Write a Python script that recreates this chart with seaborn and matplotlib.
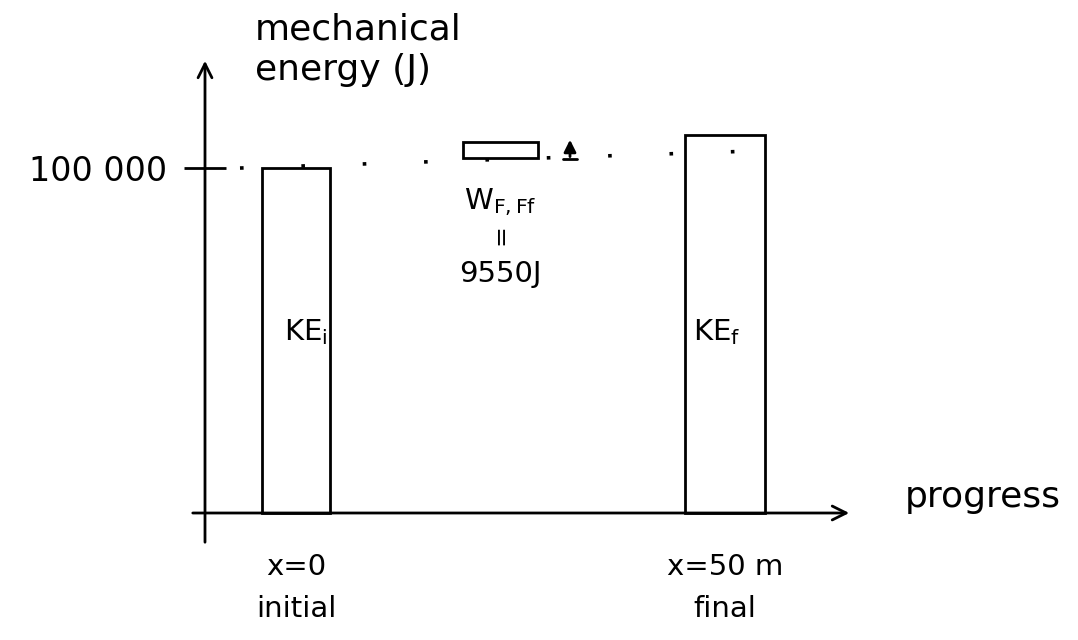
import matplotlib
matplotlib.use("Agg")
import matplotlib.pyplot as plt
import seaborn as sns
import pandas as pd

# ---- data ----
stages = ["x=0\ninitial", "x=50 m\nfinal"]
stage_pos = [91, 520]             # progress positions of the two states
bar_labels = [r"KE$_\mathrm{i}$", r"KE$_\mathrm{f}$"]
energies = [100000, 109550]       # kinetic energy (J)
work_label = r"W$_\mathrm{F,Ff}$"
work_value_text = "9550J"
work_box = [102900, 107500]       # bottom/top of the small work box (J)
work_box_pos = 295
ref_level = 100000
ytick_labels = ["100 000"]

sns.set_theme(style="white")
plt.rcParams["font.family"] = ["DejaVu Sans"]
plt.rcParams["text.color"] = "black"
plt.rcParams["xtick.color"] = "black"
plt.rcParams["ytick.color"] = "black"

fig = plt.figure(figsize=(10.78, 6.4), dpi=100)
W, H = 1078, 640
ax = fig.add_axes([190 / W, 1 - 545 / H, (855 - 190) / W, (545 - 58) / H])

df = pd.DataFrame({"pos": stage_pos, "energy": energies})
sns.barplot(data=df, x="pos", y="energy", native_scale=True, width=0.17,
            fill=False, color="black", linewidth=2, ax=ax, errorbar=None)
for p in ax.patches:
    p.set_edgecolor("black")
    p.set_facecolor("none")
# bar widths as drawn in the sketch
ax.patches[1].set_x(stage_pos[1] - 40)
ax.patches[1].set_width(80)
ax.patches[0].set_x(stage_pos[0] - 34)
ax.patches[0].set_width(68)

# work box
ax.bar([work_box_pos], [work_box[1] - work_box[0]], bottom=[work_box[0]],
       width=75, facecolor="none", edgecolor="black", linewidth=2)

ax.set_xlim(-15, 650)
ax.set_ylim(-9275, 131900)

# axes drawn as arrows
for s in ax.spines.values():
    s.set_visible(False)
ax.spines["left"].set_position(("data", 0))
ax.annotate("", xy=(0, 131900), xytext=(0, -9275),
            arrowprops=dict(arrowstyle="->", lw=2, color="black",
                            mutation_scale=25), annotation_clip=False)
ax.annotate("", xy=(647, 0), xytext=(-15, 0),
            arrowprops=dict(arrowstyle="->", lw=2, color="black",
                            mutation_scale=25), annotation_clip=False)

# dotted reference line
ax.plot([35, 555], [ref_level, ref_level + 5000], color="black",
        linestyle=(0, (1, 16)), linewidth=2.6)

# small upward arrow next to the box
ax.annotate("", xy=(365, 109000), xytext=(365, 102500),
            arrowprops=dict(arrowstyle="-|>", lw=2, color="black",
                            mutation_scale=18))
ax.plot([358, 372], [102500, 102500], color="black", lw=2)

# ticks
ax.set_yticks([ref_level])
ax.set_yticklabels(ytick_labels)
ax.tick_params(axis="y", direction="inout", length=30, width=2,
               left=True, pad=12, labelsize=24, colors="black")

ax.set_xticks(stage_pos)
ax.set_xticklabels(stages, linespacing=1.6)
ax.tick_params(axis="x", length=0, pad=6, labelsize=21, colors="black")
ax.set_xlabel("")
ax.set_ylabel("")

# labels inside bars
ax.text(stage_pos[0] + 10, 50000, bar_labels[0], fontsize=21, ha="center")
ax.text(stage_pos[1] - 8, 50000, bar_labels[1], fontsize=21, ha="center")

# work annotation
ax.text(work_box_pos, 88000, work_label, fontsize=21, ha="center")
ax.text(work_box_pos, 79000, "=", fontsize=18, ha="center", rotation=90)
ax.text(work_box_pos, 67000, work_value_text, fontsize=21, ha="center")

# axis titles
fig.text(255 / W, 1 - 12 / H, "mechanical\nenergy (J)", fontsize=26,
         ha="left", va="top", linespacing=1.25)
fig.text(905 / W, 1 - 497 / H, "progress", fontsize=26, ha="left",
         va="center")

fig.savefig("out.png", dpi=100, facecolor="white")
